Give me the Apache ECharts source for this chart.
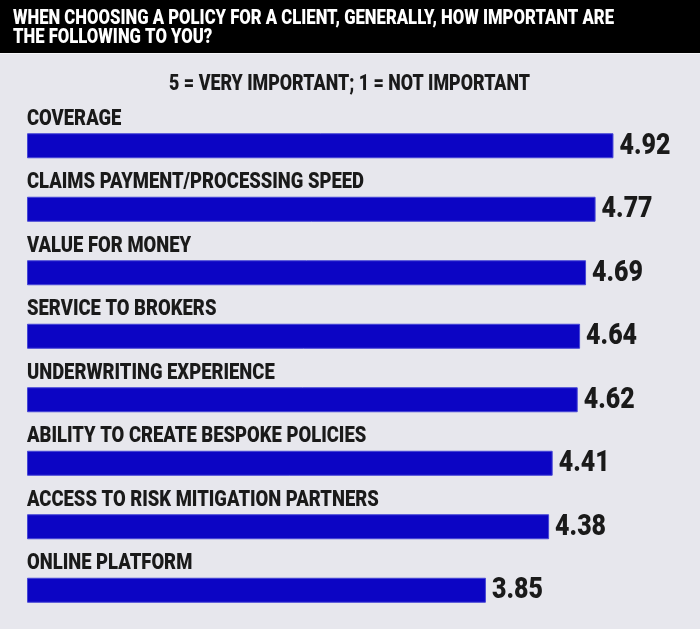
<!DOCTYPE html>
<html>
<head>
<meta charset="utf-8">
<script src="https://cdn.jsdelivr.net/npm/echarts@6/dist/echarts.min.js"></script>
<style>
  html, body { margin: 0; padding: 0; background: #e7e7ed; }
  #chart { width: 700px; height: 629px; }
</style>
</head>
<body>
<div id="chart"></div>
<script>
// 数据
var categories = [
    "COVERAGE",
    "CLAIMS PAYMENT/PROCESSING SPEED",
    "VALUE FOR MONEY",
    "SERVICE TO BROKERS",
    "UNDERWRITING EXPERIENCE",
    "ABILITY TO CREATE BESPOKE POLICIES",
    "ACCESS TO RISK MITIGATION PARTNERS",
    "ONLINE PLATFORM"
];
var scores = [4.92, 4.77, 4.69, 4.64, 4.62, 4.41, 4.38, 3.85];
var titleLines = [
    "WHEN CHOOSING A POLICY FOR A CLIENT, GENERALLY, HOW IMPORTANT ARE",
    "THE FOLLOWING TO YOU?"
];
var subtitle = "5 = VERY IMPORTANT; 1 = NOT IMPORTANT";

var family = "Roboto, 'Noto Sans', sans-serif";
var weight = "900";
var ink = "#1a1a1a";

// 压窄字体：按参考图里的宽度算一个横向缩放
var ctx = document.createElement("canvas").getContext("2d");
function squeeze(text, size, width) {
    ctx.font = weight + " " + size + "px " + family;
    return width / ctx.measureText(text).width;
}
function font(size) {
    return weight + " " + size + "px " + family;
}
var titleScale = squeeze(titleLines[0], 20, 601);
var subScale = squeeze(subtitle, 22.5, 361);
var catScale = squeeze(categories[1], 22, 337);
var valScale = squeeze("4.92", 29.5, 51);

(function() {
    var myChart = echarts.init(document.getElementById("chart"));
    var option = {
        backgroundColor: "#e7e7ed",
        // 顶部黑色标题栏
        graphic: [
            { type: "rect", shape: { x: 0, y: 0, width: 700, height: 53 }, style: { fill: "#000" } },
            { type: "rect", shape: { x: 0, y: 53, width: 700, height: 1 }, style: { fill: "#f6f6f8" } },
            {
                type: "text", x: 13, y: 18.5, scaleX: titleScale,
                style: { text: titleLines[0], font: font(20), fill: "#fff", textVerticalAlign: "middle" }
            },
            {
                type: "text", x: 13, y: 38, scaleX: titleScale,
                style: { text: titleLines[1], font: font(20), fill: "#fff", textVerticalAlign: "middle" }
            },
            {
                type: "text", x: 349.5, y: 84.5, scaleX: subScale,
                style: { text: subtitle, font: font(22.5), fill: ink, textAlign: "center", textVerticalAlign: "middle" }
            }
        ],
        grid: {
            left: 27,
            right: 77,
            top: 114,
            bottom: 7
        },
        xAxis: {
            type: "value",
            min: 0,
            max: 5,
            show: false
        },
        yAxis: {
            type: "category",
            data: categories,
            inverse: true,
            show: false
        },
        series: [{
            type: "bar",
            data: scores,
            barWidth: 25,
            itemStyle: {
                color: "#0c05c4",
                borderColor: "#4646d6",
                borderWidth: 1
            },
            animation: false
        }, {
            // 类别名和数值标签
            type: "custom",
            data: scores.map(function(v, i) { return [v, i]; }),
            encode: { x: 0, y: 1 },
            renderItem: function(params, api) {
                var i = api.value(1);
                var v = api.value(0);
                var start = api.coord([0, i]);
                var end = api.coord([v, i]);
                return {
                    type: "group",
                    children: [{
                        type: "text",
                        x: start[0],
                        y: start[1] - 26.5,
                        scaleX: catScale,
                        style: { text: categories[i], font: font(22), fill: ink, textVerticalAlign: "middle" }
                    }, {
                        type: "text",
                        x: end[0] + 6,
                        y: end[1] + 0.5,
                        scaleX: valScale,
                        style: { text: v.toFixed(2), font: font(29.5), fill: ink, textVerticalAlign: "middle" }
                    }]
                };
            },
            animation: false
        }]
    };
    myChart.setOption(option);
    window.addEventListener("resize", function() {
        myChart.resize();
    });
})();
</script>
</body>
</html>
